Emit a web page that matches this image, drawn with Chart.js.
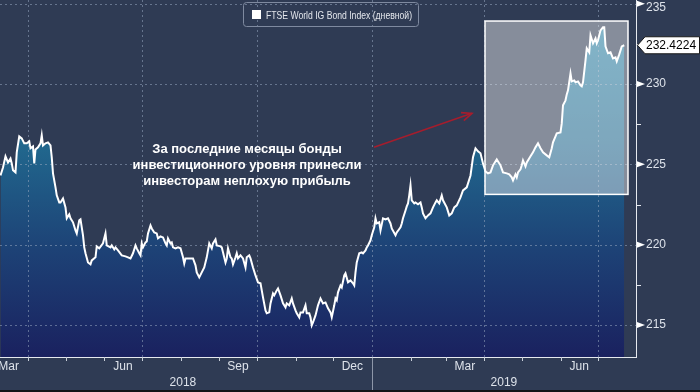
<!DOCTYPE html>
<html><head><meta charset="utf-8">
<script src="https://cdn.jsdelivr.net/npm/chart.js@4.4.1/dist/chart.umd.min.js"></script>
<style>html,body{margin:0;padding:0;background:#2f3b54;overflow:hidden}canvas{display:block}</style>
</head><body><canvas id="c" width="700" height="392"></canvas>
<script>
// Days counted from 2018-01-01 (day 0)
const dayOffsets = [68,70,72,74,76,77,78,80,81,83,85,87,89,91,92,94,95,96,98,100,101,102,104,106,108,109,110,112,113,115,116,118,120,121,123,124,126,128,129,131,132,134,135,136,138,140,141,144,145,147,150,152,153,156,157,159,160,162,165,168,170,172,174,176,177,179,180,181,182,184,185,186,188,189,191,193,194,196,198,200,201,202,204,205,206,208,210,212,214,215,216,218,220,222,224,225,227,229,231,233,235,237,238,240,241,244,245,248,249,250,252,253,254,256,257,258,260,262,264,265,267,268,270,272,274,276,278,280,281,283,284,286,287,289,290,292,294,296,297,299,301,302,304,305,307,308,310,312,313,315,316,317,318,320,322,324,326,328,330,332,333,335,336,337,338,340,341,343,344,346,348,350,351,352,353,355,357,358,360,361,362,364,365,367,368,369,371,372,374,376,378,380,381,384,385,388,389,390,392,393,394,395,396,397,399,400,402,404,405,406,408,410,412,414,416,417,419,421,422,425,427,429,431,433,436,438,441,444,446,448,450,452,454,456,458,460,462,465,468,470,473,475,477,478,480,481,482,484,485,486,488,489,492,494,496,498,500,502,505,507,509,510,512,513,516,517,518,520,521,522,524,525,527,528,530,532,533,534,536,537,539,540,542,544,545,546,548,550,551,552,554,556,558,560,561,563,565,567];
const indexValues = [224.31,224.81,225.50,225.12,225.37,225.06,224.63,224.50,225.75,226.74,226.62,226.31,226.31,226.43,226.00,226.12,225.06,225.93,226.06,226.31,226.81,226.18,226.31,226.37,226.18,225.44,224.44,223.57,223.07,222.63,222.63,222.88,222.32,221.64,221.89,221.64,221.39,220.89,220.70,221.51,221.57,220.58,219.83,219.46,218.89,218.77,219.02,219.21,219.89,219.77,220.08,220.70,219.95,219.83,219.95,219.70,219.83,219.64,219.33,219.27,219.21,219.14,219.46,219.95,219.77,219.46,219.33,220.08,219.83,220.14,220.20,220.70,221.20,221.01,220.76,220.70,220.39,220.51,220.45,220.08,219.95,220.39,220.08,220.14,219.83,219.77,219.83,219.77,219.21,218.83,219.14,219.14,219.14,219.14,218.71,218.27,217.96,218.27,218.58,219.21,220.08,219.77,220.08,220.33,219.95,219.89,219.83,218.89,219.14,219.77,219.21,219.14,218.77,219.21,219.46,219.14,219.33,219.14,218.58,219.21,219.33,219.14,218.58,218.08,217.65,217.59,216.71,215.90,215.72,215.78,216.34,216.96,216.84,217.15,217.27,216.84,216.34,216.09,216.34,216.22,216.65,216.34,215.90,215.72,215.47,215.78,215.78,216.22,215.72,215.72,215.47,214.97,215.16,215.59,216.22,216.65,216.34,216.40,216.03,215.78,215.47,216.22,216.65,216.53,217.03,217.46,217.34,218.08,218.21,217.65,217.77,217.59,217.46,218.27,218.89,219.46,219.52,219.46,219.64,219.83,219.95,220.27,220.58,221.08,221.64,221.32,221.39,220.89,221.64,221.57,221.64,221.32,221.01,220.58,220.76,221.08,221.32,221.64,222.13,222.38,222.57,223.07,223.69,222.76,222.57,222.63,222.51,222.63,222.32,221.95,221.64,221.82,221.95,222.32,222.63,222.76,222.57,223.07,222.76,222.32,221.82,221.95,222.32,222.45,222.94,223.38,223.57,224.31,225.44,226.00,225.81,225.69,225.06,224.56,224.44,224.50,224.94,225.31,224.94,224.50,224.44,224.38,224.19,224.00,224.38,224.19,224.50,224.69,224.94,225.25,224.88,225.12,225.50,225.75,226.06,226.31,226.00,225.75,225.56,225.44,226.00,226.37,226.74,226.93,226.99,227.55,228.68,228.99,229.36,229.61,230.67,230.17,230.23,230.11,230.17,229.92,229.86,230.11,231.48,232.23,231.98,233.04,232.54,232.85,232.54,232.73,233.35,233.54,233.54,232.35,231.92,231.98,231.60,231.67,231.42,231.85,232.35,232.42];
const lastValueLabel = '232.4224';
const seriesName = 'FTSE World IG Bond Index (дневной)';
const yTickValues = [215, 220, 225, 230, 235];
const yMinorTickValues = [217.5, 222.5, 227.5, 232.5];
const monthStartDays = [90,120,151,181,212,243,273,304,334,365,396,424,455,485,516,546];
const quarterStartDays = [90,181,273,365,455,546];
const monthLabels = ['Mar','Jun','Sep','Dec','Mar','Jun'];
const monthLabelDays = [74.5,166,258,349.5,439.5,531];
const yearLabels = ['2018','2019'];
const yearStartDays = [365];
const annotationLines = ['За последние месяцы бонды','инвестиционного уровня принесли','инвесторам неплохую прибыль'];

const X_MIN = 67.6, X_MAX = 576.4, Y_MIN = 213.0, Y_MAX = 235.24;
const BG = '#2f3b54';
const AXIS_TXT = '#dde2ea';

const deco = {
  id: 'deco',
  beforeDraw(chart) {
    const c = chart.ctx; c.save(); c.fillStyle = BG; c.fillRect(0, 0, chart.width, chart.height); c.restore();
  },
  beforeDatasetDraw(chart) {
    const c = chart.ctx, a = chart.chartArea, xs = chart.scales.x, ys = chart.scales.y;
    c.save();
    c.strokeStyle = 'rgba(150,165,190,0.55)'; c.lineWidth = 1; c.setLineDash([2, 3]);
    yTickValues.forEach(v => { const y = Math.round(ys.getPixelForValue(v)) + 0.5; c.beginPath(); c.moveTo(a.left, y); c.lineTo(a.right, y); c.stroke(); });
    quarterStartDays.forEach(d => { const x = Math.round(xs.getPixelForValue(d)) + 0.5; c.beginPath(); c.moveTo(x, a.top); c.lineTo(x, a.bottom); c.stroke(); });
    c.restore();
  },
  afterDatasetsDraw(chart) {
    const c = chart.ctx, a = chart.chartArea, xs = chart.scales.x, ys = chart.scales.y;
    c.save();
    // highlight box (Apr 2019 - Jul 2019)
    const bx1 = xs.getPixelForValue(455.6), bx2 = xs.getPixelForValue(570);
    const by1 = ys.getPixelForValue(233.93), by2 = ys.getPixelForValue(223.13);
    c.fillStyle = 'rgba(255,255,255,0.42)';
    c.fillRect(bx1, by1, bx2 - bx1, by2 - by1);
    c.strokeStyle = '#ffffff'; c.lineWidth = 1.5; c.setLineDash([]);
    c.strokeRect(bx1, by1, bx2 - bx1, by2 - by1);

    // arrow
    const ax1 = xs.getPixelForValue(366.8), ay1 = ys.getPixelForValue(226.06);
    const ax2 = xs.getPixelForValue(445.2), ay2 = ys.getPixelForValue(228.18);
    c.strokeStyle = '#a51d2d'; c.lineWidth = 1.6;
    c.beginPath(); c.moveTo(ax1, ay1); c.lineTo(ax2, ay2); c.stroke();
    const ang = Math.atan2(ay2 - ay1, ax2 - ax1), hl = 11;
    c.beginPath();
    c.moveTo(ax2 - hl * Math.cos(ang - 0.4), ay2 - hl * Math.sin(ang - 0.4));
    c.lineTo(ax2, ay2);
    c.lineTo(ax2 - hl * Math.cos(ang + 0.4), ay2 - hl * Math.sin(ang + 0.4));
    c.stroke();

    // annotation text
    c.fillStyle = '#ffffff'; c.font = 'bold 13px "Liberation Sans", Arial, sans-serif';
    c.textAlign = 'center'; c.textBaseline = 'middle';
    const tx = xs.getPixelForValue(265.2);
    [225.93, 224.94, 223.94].forEach((v, i) => c.fillText(annotationLines[i], tx, ys.getPixelForValue(v)));

    // x axis
    c.strokeStyle = '#e6e9ef'; c.lineWidth = 1;
    c.beginPath(); c.moveTo(a.left, a.bottom + 0.5); c.lineTo(a.right, a.bottom + 0.5); c.stroke();
    c.strokeStyle = '#c9cfd9';
    monthStartDays.forEach(d => { const x = Math.round(xs.getPixelForValue(d)) + 0.5; c.beginPath(); c.moveTo(x, a.bottom); c.lineTo(x, a.bottom + 4); c.stroke(); });
    c.strokeStyle = '#8d96a8';
    yearStartDays.forEach(d => { const x = Math.round(xs.getPixelForValue(d)) + 0.5; c.beginPath(); c.moveTo(x, a.bottom + 1); c.lineTo(x, chart.height); c.stroke(); });
    c.fillStyle = AXIS_TXT; c.font = '12px "Liberation Sans", Arial, sans-serif';
    monthLabels.forEach((t, i) => c.fillText(t, xs.getPixelForValue(monthLabelDays[i]), a.bottom + 10));
    const ys0 = xs.getPixelForValue(yearStartDays[0]);
    c.fillText(yearLabels[0], (a.left + ys0) / 2 - 3, a.bottom + 26);
    c.fillText(yearLabels[1], (ys0 + a.right) / 2, a.bottom + 26);

    // y axis
    c.strokeStyle = '#e6e9ef';
    c.beginPath(); c.moveTo(a.right + 0.5, 0); c.lineTo(a.right + 0.5, a.bottom + 1); c.stroke();
    yMinorTickValues.forEach(v => { const y = Math.round(ys.getPixelForValue(v)) + 0.5; c.beginPath(); c.moveTo(a.right, y); c.lineTo(a.right + 5, y); c.stroke(); });
    c.fillStyle = '#ffffff'; c.textAlign = 'left';
    yTickValues.forEach(v => {
      const y = ys.getPixelForValue(v);
      c.fillStyle = '#ffffff';
      c.beginPath(); c.moveTo(a.right + 1, y - 3); c.lineTo(a.right + 9, y); c.lineTo(a.right + 1, y + 3); c.closePath(); c.fill();
      c.fillStyle = AXIS_TXT;
      c.fillText(String(v), a.right + 10, Math.max(y, 8));
    });

    // last value tag
    const vy = ys.getPixelForValue(indexValues[indexValues.length - 1]);
    c.fillStyle = '#ffffff'; c.strokeStyle = '#1a1a1a'; c.lineWidth = 1;
    c.beginPath(); c.moveTo(a.right + 1.5, vy); c.lineTo(a.right + 9, vy - 8.5); c.lineTo(699.5, vy - 8.5); c.lineTo(699.5, vy + 8.5); c.lineTo(a.right + 9, vy + 8.5); c.closePath(); c.fill(); c.stroke();
    c.fillStyle = '#000000'; c.font = '12px "Liberation Sans", Arial, sans-serif';
    c.fillText(lastValueLabel, a.right + 10, vy + 0.5);

    // legend
    c.strokeStyle = '#7f8aa0'; c.lineWidth = 1;
    c.beginPath(); c.roundRect(243.5, 2.5, 175, 24, 3); c.stroke();
    c.fillStyle = '#ffffff'; c.fillRect(252, 10, 9, 9);
    c.fillStyle = '#e3e6ec'; c.font = '11px "Liberation Sans", Arial, sans-serif'; c.textAlign = 'left';
    const w = c.measureText(seriesName).width, target = 146;
    c.save(); c.translate(266, 15); c.scale(Math.min(1, target / w), 1); c.fillText(seriesName, 0, 0.5); c.restore();

    // bottom dark edge
    c.fillStyle = '#111418'; c.fillRect(0, chart.height - 2, chart.width, 2);
    c.restore();
  }
};

new Chart(document.getElementById('c'), {
  type: 'line',
  data: {
    datasets: [{
      label: seriesName,
      data: dayOffsets.map((d, i) => ({ x: d, y: indexValues[i] })),
      borderColor: '#ffffff', borderWidth: 2, pointRadius: 0, tension: 0, fill: 'start',
      backgroundColor(ctx) {
        const ch = ctx.chart, a = ch.chartArea;
        if (!a) return 'rgba(0,0,0,0)';
        const g = ch.ctx.createLinearGradient(0, a.top, 0, a.bottom);
        g.addColorStop(0, 'rgb(42,132,166)');
        g.addColorStop(0.4, 'rgb(33,104,142)');
        g.addColorStop(0.7, 'rgb(29,66,118)');
        g.addColorStop(1, 'rgb(26,33,95)');
        return g;
      }
    }]
  },
  options: {
    responsive: false, animation: false, devicePixelRatio: 1,
    layout: { padding: 0, autoPadding: false },
    plugins: { legend: { display: false }, tooltip: { enabled: false } },
    scales: {
      x: { type: 'linear', min: X_MIN, max: X_MAX, ticks: { display: false }, grid: { display: false }, border: { display: false }, afterFit(s) { s.height = 35; } },
      y: { position: 'right', min: Y_MIN, max: Y_MAX, ticks: { display: false }, grid: { display: false }, border: { display: false }, afterFit(s) { s.width = 64; } }
    }
  },
  plugins: [deco]
});
</script>
</body></html>
